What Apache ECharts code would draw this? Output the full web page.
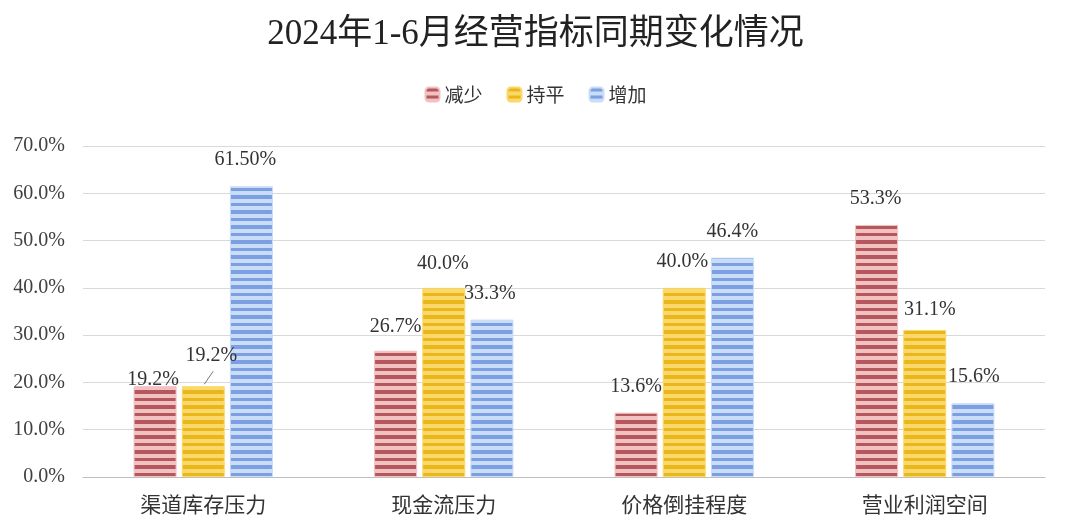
<!DOCTYPE html>
<html>
<head>
<meta charset="utf-8">
<script src="https://cdn.jsdelivr.net/npm/echarts@6/dist/echarts.min.js"></script>
<style>
html,body{margin:0;padding:0;background:#fff;}
#main{width:1071px;height:531px;}
</style>
</head>
<body>
<div id="main"></div>
<script>
const titleText = '2024年1-6月经营指标同期变化情况';
const categories = ['渠道库存压力', '现金流压力', '价格倒挂程度', '营业利润空间'];
const seriesNames = ['减少', '持平', '增加'];
const decreaseValues = [19.2, 26.7, 13.6, 53.3];
const flatValues = [19.2, 40.0, 40.0, 31.1];
const increaseValues = [61.5, 33.3, 46.4, 15.6];
const decreaseDecimals = [1, 1, 1, 1];
const flatDecimals = [1, 1, 1, 1];
const increaseDecimals = [2, 1, 1, 1];
const yTicks = [0, 10, 20, 30, 40, 50, 60, 70];

function stripe(dark, light) {
  const c = document.createElement('canvas');
  c.width = 4; c.height = 15;
  const ctx = c.getContext('2d');
  ctx.fillStyle = light; ctx.fillRect(0, 0, 4, 15);
  ctx.fillStyle = dark;
  ctx.fillRect(0, 0, 4, 4);
  ctx.fillRect(0, 8, 4, 3);
  return { image: c, repeat: 'repeat' };
}
const palettes = [
  stripe('#b5585e', '#f2c2c2'),
  stripe('#e9b61c', '#fad96a'),
  stripe('#7b9fe0', '#c9dcf8')
];
const borderColors = ['#f2c2c2', '#fad96a', '#c9dcf8'];

const serifFont = '"Liberation Serif", "Noto Sans CJK SC", serif';
const cjkFont = '"Noto Sans CJK SC", sans-serif';

// label nudges per [series][category]
const labelMoves = [
  [[-2, 20], [0, 2], [0, 0], [-1, 0]],
  [[8, -4], [-1, 2], [-2, 0], [5, 6]],
  [[-6, 0], [-2, 0], [0, 0], [1, 0]]
];

const allValues = [decreaseValues, flatValues, increaseValues];
const allDecimals = [decreaseDecimals, flatDecimals, increaseDecimals];

const chart = echarts.init(document.getElementById('main'));
const series = allValues.map((vals, si) => ({
  name: seriesNames[si],
  type: 'bar',
  barWidth: 43,
  barGap: '12%',
  itemStyle: { color: palettes[si], borderColor: borderColors[si], borderWidth: 1 },
  label: {
    show: true,
    position: 'top',
    distance: 16,
    fontFamily: serifFont,
    fontSize: 20,
    color: '#333',
    formatter: p => p.value.toFixed(allDecimals[si][p.dataIndex]) + '%'
  },
  labelLine: { show: false },
  labelLayout: p => {
    const m = labelMoves[si][p.dataIndex];
    return { dx: m[0], dy: m[1] };
  },
  data: vals
}));

chart.setOption({
  animation: false,
  backgroundColor: '#fff',
  title: {
    text: titleText,
    left: 'center',
    top: 12,
    textStyle: { fontFamily: serifFont, fontSize: 35, fontWeight: 'normal', color: '#222' }
  },
  legend: {
    top: 80,
    left: 'center',
    itemWidth: 14,
    itemHeight: 14,
    itemGap: 24,
    textStyle: { fontFamily: cjkFont, fontSize: 19, color: '#333' },
    data: seriesNames
  },
  grid: { left: 83, right: 26, top: 146, bottom: 54, containLabel: false },
  xAxis: {
    type: 'category',
    data: categories,
    axisLine: { lineStyle: { color: '#bfbfbf' } },
    axisTick: { show: false },
    axisLabel: { fontFamily: cjkFont, fontSize: 21, color: '#333', margin: 17 }
  },
  yAxis: {
    type: 'value',
    min: yTicks[0],
    max: yTicks[yTicks.length - 1],
    interval: yTicks[1] - yTicks[0],
    axisLine: { show: false },
    axisTick: { show: false },
    splitLine: { lineStyle: { color: '#d9d9d9' } },
    axisLabel: { fontFamily: serifFont, fontSize: 20, color: '#404040', margin: 18, formatter: v => v.toFixed(1) + '%' }
  },
  series: series
});

// leader line for the first "持平" label (middle bar sits on the category centre)
const flatTopPx = chart.convertToPixel({ xAxisIndex: 0, yAxisIndex: 0 }, [categories[0], flatValues[0]]);
chart.setOption({
  graphic: [{
    type: 'line',
    shape: { x1: flatTopPx[0] + 1, y1: flatTopPx[1] - 2, x2: flatTopPx[0] + 10, y2: flatTopPx[1] - 15 },
    style: { stroke: '#777', lineWidth: 1 },
    z: 10
  }]
});
</script>
</body>
</html>
